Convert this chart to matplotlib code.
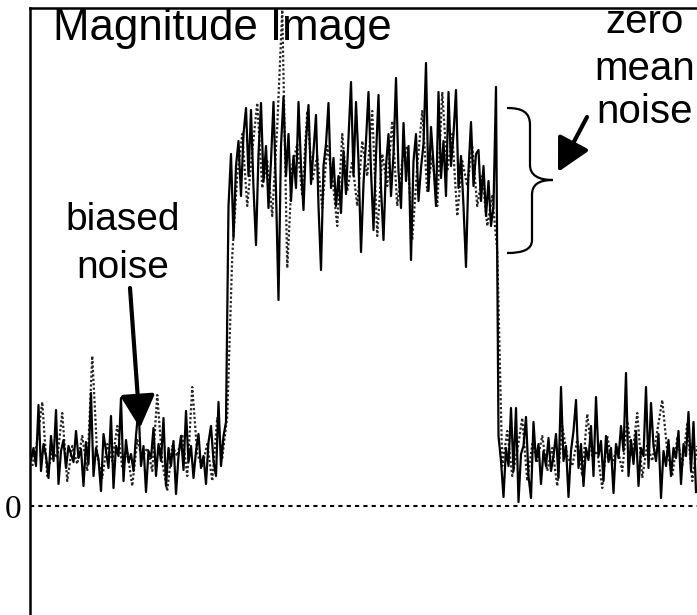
import numpy as np
import matplotlib.pyplot as plt
from matplotlib.patches import FancyArrowPatch, PathPatch
from matplotlib.path import Path

# magnitude samples (arbitrary units, 0 = true zero)
low_left = [46, 58, 40, 101, 35, 62, 50, 28, 70, 45,
            96, 22, 55, 66, 38, 60, 52, 44, 75, 48,
            57, 20, 64, 42, 113, 30, 58, 47, 15, 72,
            55, 38, 90, 18, 60, 50, 108, 25, 66, 44,
            52, 35, 70, 99, 40, 60, 14, 55, 48, 78,
            30, 62, 45, 88, 20, 58, 40, 65, 12, 50,
            70, 36, 95, 44, 60, 28, 55, 72, 38, 50,
            22, 64, 80, 45, 30, 104, 40, 70, 84]
plateau = [300, 352, 268, 340, 365, 310, 372, 398, 330, 396,
           318, 261, 352, 403, 325, 360, 298, 345, 404, 315,
           206, 360, 409, 330, 372, 305, 350, 318, 404, 340,
           296, 365, 401, 322, 355, 391, 300, 236, 340, 362,
           403, 318, 348, 300, 330, 293, 355, 312, 368, 424,
           330, 404, 345, 254, 322, 365, 414, 335, 276, 350,
           411, 318, 266, 340, 372, 310, 352, 428, 335, 298,
           383, 325, 360, 246, 345, 372, 305, 338, 362, 443,
           315, 379, 342, 300, 414, 328, 365, 310, 414, 340,
           372, 416, 318, 350, 300, 239, 335, 384, 320, 352,
           356, 305, 340, 290, 325, 280, 300, 419]
low_right = [70, 45, 9, 58, 40, 98, 35, 98, 4, 52,
             60, 89, 30, 8, 84, 45, 62, 22, 55, 40,
             68, 35, 50, 72, 28, 119, 45, 60, 9, 55,
             75, 106, 38, 62, 20, 58, 46, 80, 30, 109,
             50, 65, 25, 70, 44, 58, 13, 62, 48, 80,
             55, 133, 30, 66, 42, 75, 20, 58, 50, 119,
             38, 103, 60, 45, 72, 8, 55, 40, 66, 30,
             58, 48, 75, 22, 62, 50, 94, 35, 84, 14]

# second trace (dotted), half the sample rate
dot_left = [40, 65, 104, 30, 55, 48, 93, 25, 60, 42,
            70, 35, 150, 50, 28, 62, 45, 80, 38, 55,
            20, 66, 48, 58, 35, 111, 44, 15, 60, 50,
            72, 30, 119, 52, 40, 62, 25, 88, 48, 90]
dot_plateau = [250, 330, 372, 300, 355, 403, 318, 345, 290, 380,
               496, 238, 340, 362, 310, 395, 325, 350, 298, 360,
               330, 280, 372, 315, 345, 300, 365, 330, 395, 270,
               352, 320, 385, 300, 345, 360, 266, 340, 395, 315,
               350, 300, 414, 335, 372, 290, 345, 320, 360, 300,
               330, 280, 310, 255]
dot_right = [40, 75, 30, 55, 88, 25, 62, 45, 70, 35,
             58, 20, 80, 50, 40, 66, 30, 92, 48, 55,
             18, 70, 42, 60, 35, 85, 50, 93, 28, 62,
             45, 75, 106, 55, 30, 68, 40, 82, 25, 60]

W, H = 697, 615


def px(x, y):
    # pixel position (from top left) -> figure fraction
    return (x / W, 1 - y / H)


fig = plt.figure(figsize=(W / 100, H / 100), dpi=100)
ax = fig.add_axes([30 / W, 0, 1 - 30 / W, 1 - 8 / H])

signal = np.concatenate([low_left, plateau, low_right])
n = np.arange(len(signal))
dots = np.concatenate([dot_left, dot_plateau, dot_right])
m = 0.5 + 2 * np.arange(len(dots))

ax.plot(m, dots, color='0.15', lw=1.6, ls=(0, (1, 1)))
ax.plot(n, signal, color='black', lw=1.6)
ax.axhline(0, color='black', lw=1.5, ls=(0, (2, 2)))

ax.set_xlim(-0.4, -0.4 + (W - 30) / 2.5)
ax.set_ylim(-109, 498)
for s in ['right', 'bottom']:
    ax.spines[s].set_visible(False)
ax.spines['top'].set_linewidth(1.8)
ax.spines['left'].set_linewidth(1.8)
ax.set_xticks([])
ax.set_yticks([0])
ax.set_yticklabels(['0'], fontfamily='Liberation Serif', fontsize=24)
ax.tick_params(axis='y', length=0, pad=6)

sans = 'Liberation Sans'
fig.text(*px(53, 40), 'Magnitude Image', fontsize=31.5, family=sans,
         ha='left', va='baseline')
for word, base in [('zero', 33), ('mean', 80), ('noise', 123)]:
    fig.text(*px(645, base), word, fontsize=29, family=sans,
             ha='center', va='baseline')
for word, base in [('biased', 230), ('noise', 278)]:
    fig.text(*px(123, base), word, fontsize=28, family=sans,
             ha='center', va='baseline')

for a, b in [((130, 288), (140, 428)), ((587, 117), (558, 172))]:
    arr = FancyArrowPatch(px(*a), px(*b), transform=fig.transFigure,
                          arrowstyle='-|>,head_length=20,head_width=10.5',
                          mutation_scale=1, lw=3, color='black',
                          shrinkA=0, shrinkB=0)
    fig.add_artist(arr)

# curly brace around the plateau noise
brace = [(507, 108), (522, 108), (530, 112), (530, 125),
         (530, 165),
         (530, 175), (538, 180), (553, 180),
         (538, 180), (532, 185), (532, 195),
         (532, 240),
         (532, 250), (522, 253), (507, 253)]
codes = [Path.MOVETO] + [Path.CURVE4] * 3 + [Path.LINETO] + [Path.CURVE4] * 6 \
    + [Path.LINETO] + [Path.CURVE4] * 3
fig.add_artist(PathPatch(Path([px(*p) for p in brace], codes),
                         transform=fig.transFigure, fill=False, lw=1.6))

fig.savefig('out.png', dpi=100)
